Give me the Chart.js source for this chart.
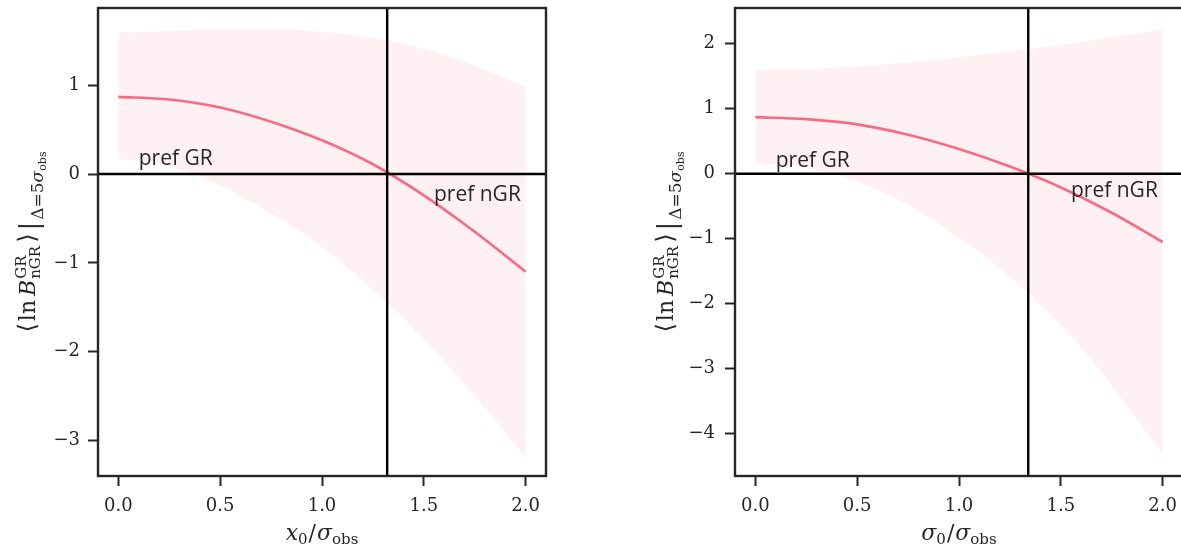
<!DOCTYPE html>
<html>
<head>
<meta charset="utf-8">
<script src="https://cdn.jsdelivr.net/npm/chart.js@4.4.1/dist/chart.umd.min.js"></script>
<style>
  html, body { margin: 0; padding: 0; background: #fff; overflow: hidden; width: 1181px; height: 548px; }
  canvas { position: absolute; top: 0; }
  #leftChart { left: 0; }
  #rightChart { left: 620px; }
</style>
</head>
<body>
<canvas id="leftChart" width="560" height="548"></canvas>
<canvas id="rightChart" width="580" height="548"></canvas>
<script>
// sample positions (x0/sigma_obs and sigma0/sigma_obs)
const xVals = [0, 0.25, 0.5, 0.75, 1.0, 1.25, 1.5, 1.75, 2.0];

// left panel: shift x0
const meanX0  = [0.87, 0.84, 0.75, 0.59, 0.38, 0.11, -0.24, -0.65, -1.10];
const upperX0 = [1.59, 1.61, 1.63, 1.63, 1.60, 1.53, 1.41, 1.22, 0.98];
const lowerX0 = [0.17, 0.10, -0.13, -0.44, -0.82, -1.30, -1.86, -2.49, -3.19];
const crossX0 = 1.32;

// right panel: width sigma0
const meanS0  = [0.87, 0.84, 0.76, 0.60, 0.38, 0.11, -0.21, -0.60, -1.05];
const upperS0 = [1.59, 1.61, 1.65, 1.71, 1.79, 1.88, 1.98, 2.10, 2.22];
const lowerS0 = [0.16, 0.09, -0.12, -0.48, -0.98, -1.58, -2.32, -3.25, -4.31];
const crossS0 = 1.34;

const xTicks = [0, 0.5, 1.0, 1.5, 2.0];
const yTicksLeft = [-3, -2, -1, 0, 1];
const yTicksRight = [-4, -3, -2, -1, 0, 1, 2];

const INK = '#262626';
const PINK = '#f76c85';
const BAND = 'rgba(247,108,133,0.1)';

function pts(xs, ys) { return xs.map((x, i) => ({ x: x, y: ys[i] })); }
function fmtY(v) { return v < 0 ? '\u2212' + Math.abs(v) : String(v); }

// draw a row of text pieces (sizes / sub- and superscripts), centred on cx
function drawRuns(ctx, runs, cx, by) {
  let x = 0, prevStart = 0, prevEnd = 0;
  const placed = [];
  runs.forEach(r => {
    ctx.font = (r.it ? 'italic ' : '') + r.s + 'px "DejaVu Serif"';
    const w = ctx.measureText(r.t).width;
    const start = r.back ? prevStart : x;
    const end = start + w;
    placed.push({ r: r, start: start });
    x = r.back ? Math.max(prevEnd, end) : end;
    x += (r.gap || 0);
    prevStart = start; prevEnd = end;
  });
  const x0 = cx - x / 2;
  placed.forEach(p => {
    ctx.font = (p.r.it ? 'italic ' : '') + p.r.s + 'px "DejaVu Serif"';
    ctx.fillText(p.r.t, x0 + p.start, by + (p.r.dy || 0));
  });
}

const yTitleRuns = [
  { t: '\u27E8', s: 24, gap: 2 },
  { t: 'ln', s: 22, gap: 4 },
  { t: 'B', s: 22, it: 1, gap: 1 },
  { t: 'GR', s: 15, dy: -9 },
  { t: 'nGR', s: 15, dy: 5, back: 1, gap: 3 },
  { t: '\u27E9', s: 24, gap: 3 },
  { t: '|', s: 26, dy: 3, gap: 2 },
  { t: '\u0394=5', s: 17, dy: 8 },
  { t: '\u03C3', s: 17, it: 1, dy: 8 },
  { t: 'obs', s: 11, dy: 11 }
];

const decor = {
  id: 'decor',
  afterDraw(chart, args, o) {
    const ctx = chart.ctx, a = chart.chartArea;
    const xs = chart.scales.x, ys = chart.scales.y;
    ctx.save();
    // frame
    ctx.strokeStyle = INK;
    ctx.lineWidth = 2.4;
    ctx.strokeRect(a.left, a.top, a.right - a.left, a.bottom - a.top);
    // notes
    ctx.fillStyle = INK;
    ctx.font = '21px "Open Sans"';
    ctx.textAlign = 'left';
    ctx.textBaseline = 'alphabetic';
    o.notes.forEach(n => ctx.fillText(n.text, xs.getPixelForValue(n.x), ys.getPixelForValue(n.y)));
    // x title
    drawRuns(ctx, o.xTitle, (a.left + a.right) / 2, 540);
    // y title
    ctx.translate(o.yTitleX, (a.top + a.bottom) / 2);
    ctx.rotate(-Math.PI / 2);
    drawRuns(ctx, yTitleRuns, 0, 0);
    ctx.restore();
  }
};

function makeChart(id, cfg) {
  const xMin = -0.1, xMax = 2.1;
  return new Chart(document.getElementById(id), {
    type: 'line',
    data: {
      datasets: [
        { data: pts(xVals, cfg.upper), borderWidth: 0, pointRadius: 0, fill: false,
          cubicInterpolationMode: 'monotone', order: 4 },
        { data: pts(xVals, cfg.lower), borderWidth: 0, pointRadius: 0, fill: 0,
          backgroundColor: BAND, cubicInterpolationMode: 'monotone', order: 3 },
        { data: pts(xVals, cfg.mean), borderColor: PINK, borderWidth: 2.7, pointRadius: 0,
          fill: false, cubicInterpolationMode: 'monotone', order: 2 },
        { data: [{ x: xMin, y: 0 }, { x: xMax, y: 0 }], borderColor: '#000', borderWidth: 2.4,
          pointRadius: 0, fill: false, order: 1 },
        { data: [{ x: cfg.cross, y: cfg.yMin }, { x: cfg.cross, y: cfg.yMax }], borderColor: '#000',
          borderWidth: 2.4, pointRadius: 0, fill: false, order: 0 }
      ]
    },
    options: {
      responsive: false,
      animation: false,
      devicePixelRatio: 1,
      layout: { padding: { top: 8, right: cfg.padRight, bottom: 0, left: 0 } },
      plugins: {
        legend: { display: false },
        tooltip: { enabled: false },
        decor: { notes: cfg.notes, xTitle: cfg.xTitle, yTitleX: cfg.yTitleX }
      },
      scales: {
        x: {
          type: 'linear', min: xMin, max: xMax,
          afterBuildTicks: s => { s.ticks = xTicks.map(v => ({ value: v })); },
          afterFit: s => { s.height = 72; s.paddingLeft = 0; s.paddingRight = 0; },
          grid: { drawOnChartArea: false, drawTicks: true, tickLength: 10, tickWidth: 2, tickColor: INK },
          border: { display: false },
          ticks: { color: INK, padding: 10, font: { family: 'DejaVu Serif', size: 18 },
                   maxRotation: 0, callback: v => v.toFixed(1) }
        },
        y: {
          type: 'linear', min: cfg.yMin, max: cfg.yMax,
          afterBuildTicks: s => { s.ticks = cfg.yTicks.map(v => ({ value: v })); },
          afterFit: s => { s.width = cfg.yWidth; s.paddingTop = 0; s.paddingBottom = 0; },
          grid: { drawOnChartArea: false, drawTicks: true, tickLength: 10, tickWidth: 2, tickColor: INK },
          border: { display: false },
          ticks: { color: INK, padding: cfg.yPad, font: { family: 'DejaVu Serif', size: 18 },
                   callback: v => fmtY(v) }
        }
      }
    },
    plugins: [decor]
  });
}

makeChart('leftChart', {
  upper: upperX0, lower: lowerX0, mean: meanX0, cross: crossX0,
  yMin: -3.40, yMax: 1.87, yTicks: yTicksLeft, yWidth: 98, yPad: 8, padRight: 14, yTitleX: 35,
  notes: [{ text: 'pref GR', x: 0.1, y: 0.1 }, { text: 'pref nGR', x: 1.55, y: -0.3 }],
  xTitle: [{ t: 'x', s: 22, it: 1 }, { t: '0', s: 15, dy: 4, gap: 1 }, { t: '/', s: 22, gap: 1 },
           { t: '\u03C3', s: 22, it: 1 }, { t: 'obs', s: 15, dy: 4 }]
});

makeChart('rightChart', {
  upper: upperS0, lower: lowerS0, mean: meanS0, cross: crossS0,
  yMin: -4.65, yMax: 2.55, yTicks: yTicksRight, yWidth: 115, yPad: 10, padRight: 17, yTitleX: 53,
  notes: [{ text: 'pref GR', x: 0.1, y: 0.1 }, { text: 'pref nGR', x: 1.55, y: -0.36 }],
  xTitle: [{ t: '\u03C3', s: 22, it: 1 }, { t: '0', s: 15, dy: 4, gap: 1 }, { t: '/', s: 22, gap: 1 },
           { t: '\u03C3', s: 22, it: 1 }, { t: 'obs', s: 15, dy: 4 }]
});
</script>
</body>
</html>
